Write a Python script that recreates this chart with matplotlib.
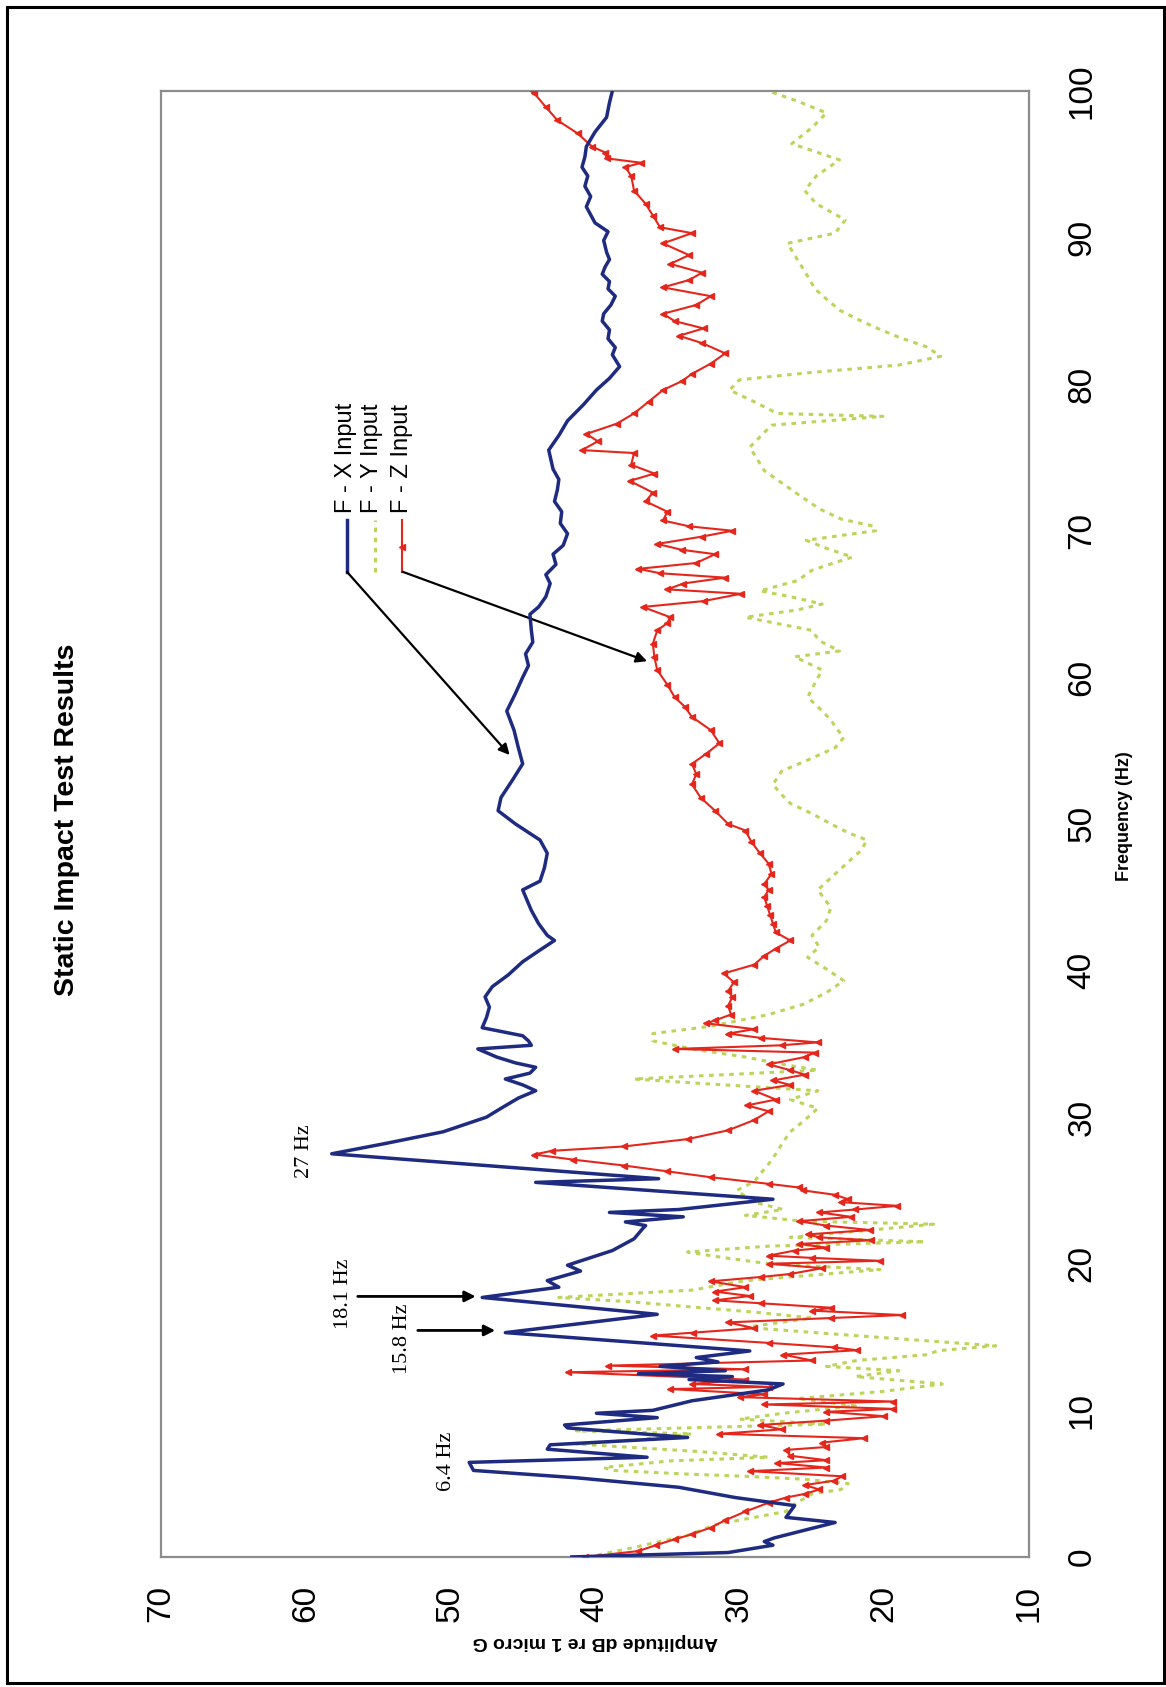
import matplotlib.pyplot as plt
from matplotlib.patches import Rectangle

plt.rcParams['font.family'] = ['Liberation Sans', 'DejaVu Sans']

# F - X Input (frequency Hz, amplitude dB)
x_freq = [0.0, 0.3, 0.8, 1.05, 1.3, 2.35, 2.7, 3.5, 3.95, 4.05, 4.75, 5.4, 5.9, 6.45,
          6.8, 7.35, 7.65, 8.15, 8.8, 9.0, 9.5, 9.8, 10.0, 10.65, 11.4, 11.8, 12.1, 12.3,
          12.5, 12.7, 13.0, 13.3, 13.6, 14.05, 15.3, 16.55, 17.7, 18.4, 18.85, 19.5, 19.9,
          20.9, 21.7, 22.4, 22.6, 22.85, 23.2, 23.5, 23.7, 24.4, 25.55, 25.8, 27.5, 28.2,
          29.0, 30.0, 30.6, 31.3, 31.8, 32.2, 32.6, 33.0, 33.4, 33.7, 34.1, 34.65, 34.9,
          35.2, 35.55, 36.1, 36.8, 37.5, 38.2, 38.9, 39.7, 40.6, 41.4, 42.05, 42.4, 43.2,
          44.1, 45.5, 46.1, 47.0, 48.0, 48.9, 50.0, 50.9, 51.8, 53.0, 54.1, 55.2, 56.4,
          57.7, 58.9, 60.0, 60.8, 61.6, 62.4, 63.2, 64.3, 64.8, 65.5, 66.4, 67.0, 67.7,
          68.4, 69.0, 69.8, 70.5, 71.3, 72.0, 72.8, 73.5, 74.2, 75.5, 76.5, 77.5, 78.6,
          79.6, 80.4, 81.2, 82.0, 82.5, 83.1, 83.7, 84.3, 84.8, 85.4, 86.0, 86.5, 87.0,
          87.5, 88.0, 88.5, 89.0, 89.8, 90.4, 91.0, 92.1, 92.8, 93.5, 94.2, 94.8, 95.5,
          96.2, 97.2, 98.2, 99.2, 100.0]
x_amp = [41.6, 30.8, 27.7, 28.3, 27.6, 23.4, 26.8, 26.2, 29.6, 30.3, 34.2, 41.3, 48.4, 48.7,
         36.4, 43.3, 43.1, 33.6, 41.9, 42.1, 35.7, 39.9, 36.0, 33.3, 28.0, 27.0, 33.5, 30.5,
         37.0, 31.0, 35.5, 31.5, 33.0, 29.3, 46.2, 35.7, 47.8, 42.5, 43.3, 41.0, 41.9,
         38.8, 37.3, 36.7, 36.5, 37.9, 33.9, 39.0, 34.2, 27.7, 44.1, 35.6, 58.2, 54.5,
         50.5, 47.5, 46.5, 45.3, 44.1, 45.0, 46.2, 44.5, 44.1, 45.5, 46.8, 48.1, 44.4,
         44.6, 45.0, 47.8, 47.5, 47.3, 47.6, 47.1, 46.0, 45.0, 43.8, 42.8, 43.3, 43.9,
         44.4, 45.0, 43.8, 43.5, 43.3, 43.8, 45.5, 46.7, 46.5, 45.7, 45.0, 45.3, 45.6,
         46.1, 45.5, 45.0, 44.6, 44.8, 44.3, 44.4, 44.5, 43.9, 43.4, 43.1, 43.4, 42.7,
         42.9, 42.2, 41.9, 42.4, 42.3, 42.8, 42.6, 42.5, 42.9, 43.2, 42.5, 41.9, 40.8,
         39.9, 39.0, 38.3, 38.8, 38.6, 39.1, 39.0, 39.5, 39.4, 38.9, 38.6, 39.1, 39.0,
         39.5, 39.3, 39.0, 39.2, 39.4, 39.1, 40.0, 40.6, 40.3, 40.7, 40.5, 40.9, 40.7,
         40.6, 40.0, 39.2, 39.0, 38.8]

# F - Y Input
y_freq = [0.0, 0.6, 1.5, 2.2, 3.1, 3.6, 4.3, 4.6, 5.0, 5.3, 5.5, 5.65, 5.9, 6.1, 6.55, 6.8,
          7.2, 7.7, 8.0, 8.4, 8.6, 9.06, 9.4, 9.8, 10.3, 10.8, 11.3, 11.8, 12.3, 12.7, 13.0,
          13.4, 13.8, 14.07, 14.4, 14.75, 15.2, 15.66, 16.3, 16.7, 17.0, 17.4, 17.7, 18.2,
          18.85, 19.6, 20.0, 20.4, 20.8, 21.2, 21.5, 21.8, 22.2, 22.7, 22.9, 23.3, 23.7,
          24.2, 25.0, 25.6, 26.1, 26.8, 27.5, 28.3, 29.0, 29.8, 30.6, 31.2, 31.8, 32.3,
          32.6, 33.2, 33.6, 34.1, 34.6, 35.2, 35.7, 36.2, 37.0, 37.7, 38.5, 39.3, 40.1,
          40.9, 41.6, 42.4, 43.4, 44.3, 45.5, 46.5, 47.4, 48.2, 48.9, 49.4, 50.0, 50.7,
          51.4, 52.1, 52.7, 53.6, 54.4, 55.2, 55.9, 56.5, 57.1, 57.9, 58.65, 59.6, 60.5,
          61.4, 61.8, 62.5, 63.2, 64.1, 64.6, 65.0, 65.5, 65.9, 66.6, 67.3, 67.8, 68.2,
          68.8, 69.35, 70.0, 70.3, 70.8, 71.5, 72.3, 73.2, 74.1, 74.9, 75.7, 76.5, 77.2,
          77.8, 78.0, 78.8, 79.6, 80.3, 80.8, 81.3, 81.9, 82.55, 83.2, 83.9, 84.5, 85.05,
          85.8, 86.5, 87.2, 88.0, 88.8, 89.6, 90.3, 91.2, 92.3, 93.2, 94.2, 95.3, 96.4,
          97.5, 98.5, 99.3, 100.0]
y_amp = [40.5, 37.5, 33.5, 31.7, 26.8, 26.2, 25.0, 23.0, 22.5, 25.5, 29.6, 33.6, 38.8, 39.4,
         34.8, 28.0, 33.0, 41.3, 37.0, 33.3, 41.3, 24.0, 30.0, 27.0, 22.0, 26.0, 20.0, 16.0,
         22.0, 19.0, 24.0, 21.9, 17.0, 16.3, 12.3, 17.2, 23.4, 29.6, 25.0, 29.0, 32.7, 37.5,
         42.5, 33.3, 29.6, 20.3, 28.0, 31.0, 33.6, 28.0, 17.2, 26.5, 22.0, 16.6, 25.6, 29.6,
         27.0, 29.0, 30.2, 29.0, 28.6, 28.0, 27.5, 27.0, 26.5, 25.5, 24.6, 26.5, 24.6, 32.7,
         37.3, 24.6, 27.0, 29.6, 33.0, 36.0, 36.0, 32.0, 28.0, 25.6, 24.0, 22.8, 24.0, 25.3,
         24.5, 25.0, 24.0, 23.7, 24.6, 23.5, 22.5, 21.6, 21.2, 22.5, 23.7, 25.0, 26.5, 27.2,
         27.7, 27.1, 25.2, 23.4, 22.8, 23.3, 23.7, 24.5, 25.3, 24.8, 24.3, 26.2, 23.1, 24.5,
         25.0, 29.6, 26.0, 24.3, 26.5, 28.6, 26.0, 25.0, 23.5, 22.2, 24.0, 25.4, 20.6, 20.7,
         23.0, 24.5, 25.7, 27.0, 28.3, 28.8, 29.3, 28.5, 27.8, 20.1, 27.4, 29.0, 30.7, 30.0,
         25.0, 19.0, 16.1, 17.1, 19.0, 20.7, 22.0, 23.1, 24.0, 24.8, 25.2, 25.7, 26.2, 26.7,
         23.4, 22.7, 24.7, 25.5, 24.7, 23.1, 26.4, 25.0, 24.0, 26.0, 28.0]

# F - Z Input
z_freq = [0.0, 0.4, 0.8, 1.2, 1.55, 2.0, 2.5, 3.1, 3.7, 4.05, 4.3, 4.6, 4.9, 5.2, 5.5, 5.85,
          6.1, 6.4, 6.6, 6.9, 7.3, 7.5, 7.8, 8.1, 8.4, 8.7, 9.0, 9.3, 9.6, 9.9, 10.1, 10.4,
          10.6, 10.9, 11.1, 11.45, 11.6, 11.8, 12.1, 12.6, 12.8, 13.05, 13.4, 13.8, 14.1,
          14.3, 14.6, 15.1, 15.3, 15.6, 16.0, 16.3, 16.5, 16.8, 17.0, 17.3, 17.5, 17.8,
          18.1, 18.4, 18.8, 19.1, 19.3, 19.7, 20.0, 20.2, 20.4, 20.55, 20.9, 21.1, 21.35,
          21.6, 21.8, 22.0, 22.3, 22.6, 22.9, 23.2, 23.5, 23.7, 23.95, 24.2, 24.4, 24.7,
          25.0, 25.2, 25.45, 25.9, 26.3, 26.7, 27.1, 27.45, 27.7, 28.0, 28.5, 29.1, 29.8,
          30.4, 30.8, 31.2, 31.8, 32.2, 32.5, 32.9, 33.2, 33.6, 34.1, 34.4, 34.65, 34.9,
          35.1, 35.4, 35.7, 36.0, 36.4, 36.6, 37.0, 37.6, 38.2, 38.6, 39.2, 39.8, 40.4,
          41.0, 41.5, 42.05, 42.6, 43.2, 43.8, 44.4, 45.0, 45.5, 45.9, 46.6, 47.3, 48.0,
          48.8, 49.55, 50.0, 50.9, 51.8, 52.7, 53.4, 54.1, 54.8, 55.5, 56.4, 57.3, 58.0,
          58.65, 59.5, 60.5, 61.4, 62.3, 63.2, 63.7, 64.1, 64.8, 65.2, 65.7, 66.0, 66.4,
          66.8, 67.1, 67.4, 67.8, 68.4, 68.7, 69.1, 69.6, 70.0, 70.3, 70.7, 71.3, 72.0,
          72.6, 73.4, 73.9, 74.5, 75.3, 75.5, 76.1, 76.6, 77.3, 78.0, 78.8, 79.6, 80.2,
          80.7, 81.4, 82.1, 82.8, 83.3, 83.8, 84.3, 84.8, 85.4, 86.0, 86.6, 87.1, 87.6,
          88.2, 88.8, 89.6, 90.3, 90.7, 91.5, 92.3, 93.2, 94.2, 94.8, 95.1, 95.4, 95.8,
          96.2, 97.1, 98.0, 98.9, 99.84, 100.0]
z_amp = [40.7, 37.0, 35.8, 34.5, 33.3, 32.0, 31.0, 29.6, 28.0, 26.8, 25.5, 24.5, 25.5, 23.5,
         22.9, 29.3, 24.0, 27.4, 24.0, 26.5, 26.8, 24.0, 24.3, 21.4, 31.4, 27.1, 28.6, 24.0,
         20.0, 24.0, 19.4, 28.3, 19.4, 30.0, 28.3, 34.8, 28.0, 33.3, 29.6, 41.9, 29.6, 39.1,
         25.0, 27.0, 21.9, 23.5, 28.0, 36.0, 33.2, 29.0, 30.8, 23.7, 18.8, 25.0, 23.7, 28.5,
         31.7, 29.3, 31.7, 29.6, 32.0, 28.5, 26.5, 24.3, 28.0, 20.3, 25.0, 28.0, 26.2, 24.0,
         25.9, 20.9, 24.5, 25.3, 21.0, 24.0, 25.9, 22.3, 24.5, 22.0, 19.1, 23.0, 22.5, 23.4,
         25.6, 25.9, 28.0, 32.0, 35.0, 38.0, 41.5, 44.2, 43.0, 38.0, 33.6, 30.8, 29.0, 28.0,
         29.5, 27.5, 29.0, 26.5, 27.7, 25.5, 26.5, 28.0, 25.5, 24.8, 34.5, 27.1, 24.6, 28.5,
         30.8, 29.0, 32.3, 31.7, 30.6, 30.8, 30.5, 30.8, 30.4, 31.1, 29.0, 28.3, 27.5, 26.5,
         27.5, 27.7, 27.9, 28.1, 28.3, 28.0, 28.3, 27.8, 28.0, 28.6, 29.2, 29.6, 30.8, 31.7,
         32.7, 33.3, 33.0, 33.3, 32.3, 31.4, 32.0, 33.3, 33.8, 34.5, 35.0, 35.7, 35.9, 36.0,
         35.7, 35.0, 34.8, 36.7, 32.5, 29.9, 35.0, 33.9, 31.0, 35.5, 37.0, 33.0, 31.7, 34.0,
         35.7, 32.6, 30.5, 33.5, 35.3, 35.0, 36.5, 36.0, 37.6, 35.9, 37.5, 37.3, 40.9, 39.8,
         40.6, 38.5, 37.3, 36.3, 35.3, 34.0, 33.3, 32.0, 31.0, 32.6, 34.2, 32.5, 34.5, 35.3,
         33.0, 32.0, 35.3, 33.5, 32.6, 34.8, 33.5, 35.3, 33.3, 35.5, 36.0, 36.5, 37.3, 37.5,
         37.9, 36.8, 39.2, 39.3, 40.2, 41.2, 42.6, 43.4, 44.2, 44.3]

amp_ticks = [70, 60, 50, 40, 30, 20, 10]
freq_ticks = [0, 10, 20, 30, 40, 50, 60, 70, 80, 90, 100]
series_names = ['F - X Input', 'F - Y Input', 'F - Z Input']

# peak callouts: (label, amplitude, frequency)
peak_labels = [('6.4 Hz', 50.3, 6.5), ('15.8 Hz', 53.3, 14.9),
               ('18.1 Hz', 57.4, 17.95), ('27 Hz', 60.1, 27.7)]

blue = '#1e2b80'
green = '#bcd45a'
red = '#e4261c'

fig = plt.figure(figsize=(11.66, 16.87), dpi=100)
fig.patches.append(Rectangle((0.006, 0.0024), 0.992, 0.9935, transform=fig.transFigure,
                             fill=False, edgecolor='black', linewidth=2.2))

ax = fig.add_axes([0.1381, 0.0771, 0.7444, 0.869])
ax.plot(y_amp, y_freq, color=green, lw=2.2, dashes=(1.5, 1.8), zorder=2)
ax.plot(z_amp, z_freq, color=red, lw=1.5, marker='<', ms=4.5, zorder=3)
ax.plot(x_amp, x_freq, color=blue, lw=2.5, zorder=4)

ax.set_xlim(70, 10)
ax.set_ylim(0, 100)
ax.set_xticks(amp_ticks)
ax.set_yticks(freq_ticks)
ax.yaxis.tick_right()
ax.tick_params(length=0)
ax.tick_params(axis='x', labelrotation=90, labelsize=24, pad=20)
ax.tick_params(axis='y', labelrotation=90, labelsize=24, pad=27)
for lab in ax.get_yticklabels():
    lab.set_va('center')
for sp in ax.spines.values():
    sp.set_color('#8c8c8c')
    sp.set_linewidth(1.6)

# rotated page: title and axis labels
fig.text(0.0575, 0.514, 'Static Impact Test Results', rotation=90, ha='center',
         va='center', fontsize=20.5, fontweight='bold')
fig.text(0.964, 0.516, 'Frequency (Hz)', rotation=90, ha='center', va='center',
         fontsize=13, fontweight='bold')
fig.text(0.5103, 0.027, 'Amplitude dB re 1 micro G', rotation=180, ha='center',
         va='center', fontsize=14, fontweight='bold')

# legend drawn sideways
leg_line_x = [0.214, 0.2465, 0.2776]
leg_text_x = [0.213, 0.243, 0.278]
leg_styles = [dict(color=blue, lw=2.5),
              dict(color=green, lw=2.2, dashes=(1.5, 1.8)),
              dict(color=red, lw=1.5)]
for lx, tx, name, st in zip(leg_line_x, leg_text_x, series_names, leg_styles):
    ax.plot([lx, lx], [0.672, 0.707], transform=ax.transAxes, clip_on=False, **st)
    ax.text(tx, 0.712, name, transform=ax.transAxes, rotation=90,
            ha='center', va='bottom', fontsize=17)
ax.plot([leg_line_x[2]], [0.689], transform=ax.transAxes, marker='<', ms=4.5, color=red)

arrow = dict(arrowstyle='-|>', color='black', lw=1.6, mutation_scale=16,
             shrinkA=0, shrinkB=0)
ax.annotate('', xy=(45.9, 54.7), xytext=(57.15, 67.2), arrowprops=arrow)
ax.annotate('', xy=(36.4, 61.1), xytext=(53.3, 67.2), arrowprops=arrow)

for text, a, f in peak_labels:
    ax.text(a, f, text, rotation=90, ha='center', va='center', fontsize=16,
            family=['Liberation Serif', 'DejaVu Serif'])
hz_arrow = dict(arrowstyle='-|>', color='black', lw=2, mutation_scale=16,
                shrinkA=0, shrinkB=0)
ax.annotate('', xy=(48.25, 17.77), xytext=(56.4, 17.77), arrowprops=hz_arrow)
ax.annotate('', xy=(46.9, 15.45), xytext=(52.25, 15.45), arrowprops=hz_arrow)

fig.savefig('out.png', dpi=100, facecolor='white')
